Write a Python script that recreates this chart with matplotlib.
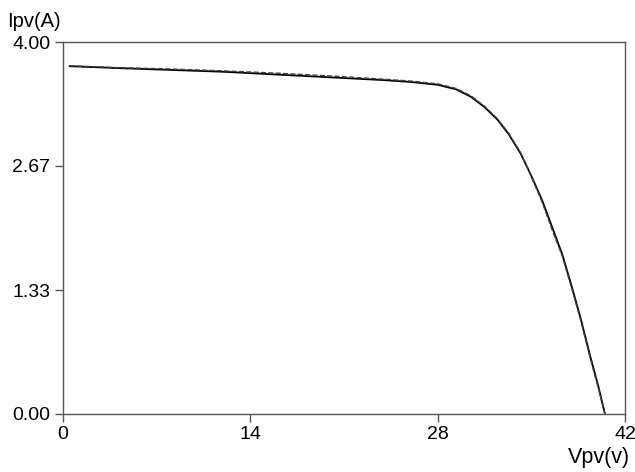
import matplotlib
matplotlib.use('Agg')
from matplotlib import pyplot as plt

plt.rcParams['font.family'] = ['Liberation Sans', 'DejaVu Sans']

# I-V curve
vpv = [0.5, 4, 8, 12, 16, 20, 24, 26, 28, 29.4, 30.5, 31.5, 32.5, 33.3, 34.2, 35.0, 35.8, 36.5, 37.3, 38.0, 38.7, 39.4, 40.0, 40.5]
ipv_sim = [3.74, 3.72, 3.70, 3.68, 3.65, 3.62, 3.59, 3.57, 3.54, 3.49, 3.41, 3.30, 3.16, 3.01, 2.80, 2.56, 2.30, 2.03, 1.72, 1.38, 1.02, 0.62, 0.30, 0.00]
ipv_meas = [3.745, 3.725, 3.71, 3.69, 3.665, 3.635, 3.60, 3.58, 3.55, 3.50, 3.42, 3.31, 3.17, 3.02, 2.81, 2.55, 2.28, 2.00, 1.70, 1.36, 1.00, 0.60, 0.28, 0.00]

xticks = [0, 14, 28, 42]
yticks = [0.00, 1.33, 2.67, 4.00]

fig = plt.figure(figsize=(6.35, 4.72), dpi=100)
ax = fig.add_axes([0.0992, 0.1229, 0.8851, 0.7881])

ax.plot(vpv, ipv_sim, color='black', lw=1.3)
ax.plot(vpv, ipv_meas, color='#444444', lw=1.0, ls='--')

ax.set_xlim(0, 42)
ax.set_ylim(0, 4.0)
ax.set_xticks(xticks)
ax.set_xticklabels([str(t) for t in xticks])
ax.set_yticks(yticks)
ax.set_yticklabels(['%.2f' % t for t in yticks])

for s in ax.spines.values():
    s.set_color('#555555')
    s.set_linewidth(1.0)
ax.tick_params(direction='out', length=6, width=1.0, color='#555555',
               labelsize=14, pad=3)

fig.text(0.012, 0.955, 'Ipv(A)', fontsize=14.5, ha='left', va='center')
fig.text(0.992, 0.03, 'Vpv(v)', fontsize=15.5, ha='right', va='center')

plt.savefig('out.png', dpi=100)
